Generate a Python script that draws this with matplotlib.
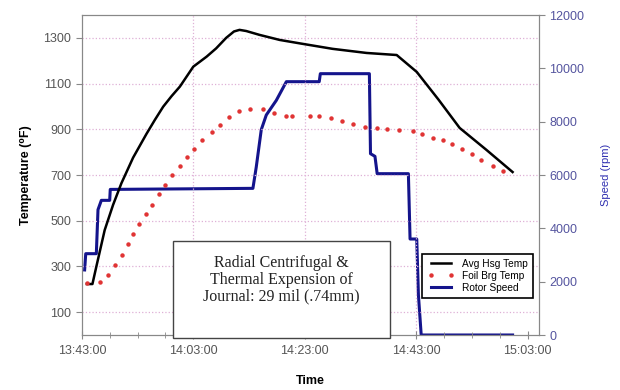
import matplotlib
matplotlib.use("Agg")
import matplotlib.pyplot as plt
from matplotlib.patches import Rectangle
from matplotlib.ticker import MultipleLocator

plt.rcParams['font.family'] = ['Liberation Sans', 'DejaVu Sans']

# minutes after 13:43:00
hsg_min = [0.9, 1.9, 2.6, 4.1, 5.6, 7.1, 9.2, 11.6, 13.1, 14.6, 16.1, 17.6,
           20.0, 22.4, 24.1, 25.9, 27.3, 28.3, 29.5, 31.9, 35.5, 39.1, 45.0,
           51.1, 56.5, 60.1, 64.0, 67.8, 72.6, 77.3]
hsg_temp = [223, 223, 299, 459, 569, 664, 776, 880, 941, 999, 1045, 1087,
            1174, 1218, 1254, 1300, 1328, 1335, 1330, 1313, 1291, 1276, 1252,
            1234, 1225, 1151, 1030, 906, 810, 713]

brg_min = [0.9, 3.2, 4.7, 5.9, 7.2, 8.2, 9.1, 10.2, 11.5, 12.6, 13.8, 14.9,
           16.1, 17.6, 18.8, 20.1, 21.5, 23.3, 24.8, 26.4, 28.2, 30.1, 32.5,
           34.4, 36.6, 37.8, 40.9, 42.5, 44.7, 46.6, 48.6, 50.9, 52.9, 54.7,
           57.0, 59.4, 61.0, 63.0, 64.8, 66.5, 68.2, 70.0, 71.7, 73.7, 75.5]
brg_temp = [227, 232, 263, 306, 350, 398, 442, 486, 529, 569, 617, 656,
            700, 740, 779, 814, 853, 888, 919, 954, 980, 989, 989,
            971, 958, 958, 958, 958, 950, 937, 923, 910, 906, 901,
            897, 893, 880, 862, 853, 836, 814, 792, 766, 740, 718]

rotor_min = [0.5, 0.7, 2.6, 2.9, 3.5, 5.0, 5.1, 30.7, 31.3, 32.2, 33.1, 34.9,
             36.7, 42.6, 42.8, 51.6, 51.8, 52.6, 53.0, 58.6, 58.9, 60.1, 60.4,
             60.9, 77.3]
rotor_rpm = [2440, 3050, 3050, 4700, 5050, 5050, 5460, 5500, 6300, 7700, 8250,
             8800, 9500, 9500, 9800, 9800, 6800, 6700, 6050, 6050, 3600, 3600,
             1500, 0, 0]

time_ticks = [0, 20, 40, 60, 80]
time_labels = ['13:43:00', '14:03:00', '14:23:00', '14:43:00', '15:03:00']

fig = plt.figure(figsize=(6.2, 3.9), dpi=100)
ax = fig.add_axes([0.132, 0.141, 0.737, 0.8205])
ax2 = ax.twinx()

grid_col = '#dfb0d6'
for t in time_ticks[1:-1]:
    ax.axvline(t, color=grid_col, ls=':', lw=0.9, zorder=0)
for v in range(100, 1400, 200):
    ax.axhline(v, color=grid_col, ls=':', lw=0.9, zorder=0)

l1, = ax.plot(hsg_min, hsg_temp, color='black', lw=1.8, label='Avg Hsg Temp')
l2, = ax.plot(brg_min, brg_temp, color='#e03434', ls='none', marker='o',
              markersize=2.2, label='Foil Brg Temp')
l3, = ax2.plot(rotor_min, rotor_rpm, color='#14148c', lw=2.2, label='Rotor Speed')

ax.set_xlim(0, 82)
ax.set_ylim(0, 1400)
ax2.set_ylim(0, 12000)
ax.set_xticks(time_ticks)
ax.set_xticklabels(time_labels)
ax.xaxis.set_minor_locator(MultipleLocator(5))
ax.set_yticks(range(100, 1400, 200))
ax2.set_yticks(range(0, 12001, 2000))

for a in (ax, ax2):
    for s in a.spines.values():
        s.set_color('#888888')
ax.tick_params(axis='x', direction='inout', length=6, colors='#888888',
               labelcolor='#555555', labelsize=9, pad=4)
ax.tick_params(axis='x', which='minor', direction='inout', length=4, colors='#888888')
ax.tick_params(axis='y', length=4, colors='#888888', labelcolor='#555555', labelsize=9)
ax2.tick_params(axis='y', length=4, colors='#888888', labelcolor='#55559f', labelsize=9)

ax.set_xlabel('Time', fontsize=9, fontweight='bold', labelpad=13)
ax.set_ylabel('Temperature (\u2070F)', fontsize=9, fontweight='bold', labelpad=8)
ax2.set_ylabel('Speed (rpm)', fontsize=8, color='#3030b0', labelpad=12)

ax.add_patch(Rectangle((0.199, -0.01), 0.475, 0.304, transform=ax.transAxes,
                       facecolor='white', edgecolor='#444444', lw=1.0,
                       clip_on=False, zorder=5))
ax.text(0.4365, 0.172, 'Radial Centrifugal &\nThermal Expension of\nJournal: 29 mil (.74mm)',
        transform=ax.transAxes, ha='center', va='center', fontsize=11.5,
        family='Liberation Serif', color='#222222', linespacing=1.05, zorder=6)

ax.set_zorder(ax2.get_zorder() + 1)
ax.patch.set_visible(False)
leg = ax.legend([l1, l2, l3], ['Avg Hsg Temp', 'Foil Brg Temp', 'Rotor Speed'],
                loc='lower right', bbox_to_anchor=(0.998, 0.1), fontsize=7.3,
                numpoints=2, fancybox=False, framealpha=1, edgecolor='black',
                handlelength=2.6, borderpad=0.5, labelspacing=0.2)
leg.get_frame().set_linewidth(1.2)

fig.savefig('out.png', dpi=100)
